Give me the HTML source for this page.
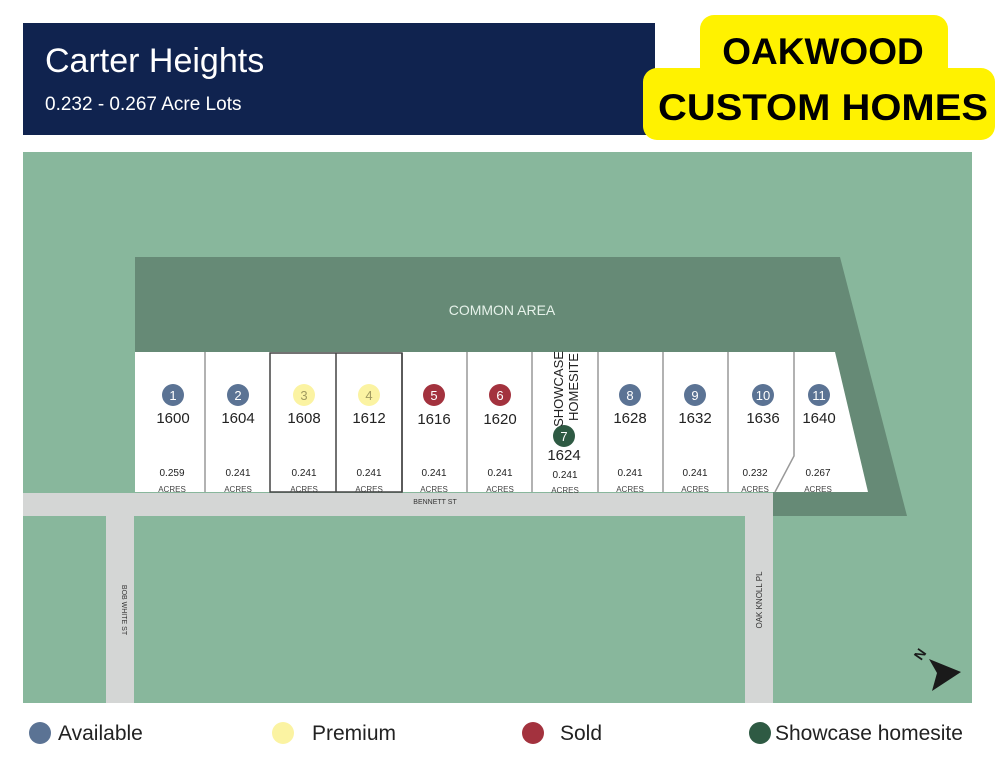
<!DOCTYPE html>
<html><head><meta charset="utf-8"><style>body{margin:0;background:#fff}svg{display:block}</style></head>
<body>
<svg width="995" height="768" viewBox="0 0 995 768" xmlns="http://www.w3.org/2000/svg" font-family="Liberation Sans, sans-serif">
<rect width="995" height="768" fill="#fff"/>
<!-- header -->
<rect x="23" y="23" width="632" height="112" fill="#10234f"/>
<text x="45" y="72" fill="#fff" font-size="34">Carter Heights</text>
<text x="45" y="110" fill="#fff" font-size="19">0.232 - 0.267 Acre Lots</text>
<rect x="700" y="15" width="248" height="70" rx="14" fill="#fff200"/>
<rect x="643" y="68" width="352" height="72" rx="14" fill="#fff200"/>
<text x="823" y="64" text-anchor="middle" font-size="37" font-weight="bold" fill="#000">OAKWOOD</text>
<text x="823" y="120" text-anchor="middle" font-size="37" font-weight="bold" fill="#000" textLength="330" lengthAdjust="spacingAndGlyphs">CUSTOM HOMES</text>
<!-- map -->
<rect x="23" y="152" width="949" height="551" fill="#88b79c"/>
<polygon points="135,257 840,257 907,516 773,516 773,492 135,492" fill="#668a76"/>
<text x="502" y="315" text-anchor="middle" fill="#e6f2ea" font-size="14">COMMON AREA</text>
<!-- lots -->
<polygon points="135,352 835,352 868,492 135,492" fill="#fff"/>
<g stroke="#999" stroke-width="1.5">
<line x1="205" y1="352" x2="205" y2="492"/><line x1="467" y1="352" x2="467" y2="492"/>
<line x1="532" y1="352" x2="532" y2="492"/><line x1="598" y1="352" x2="598" y2="492"/>
<line x1="663" y1="352" x2="663" y2="492"/><line x1="728" y1="352" x2="728" y2="492"/>
<polyline points="794,352 794,456 775,492" fill="none"/>
</g>
<rect x="270" y="353" width="132" height="139" fill="none" stroke="#444" stroke-width="1.5"/>
<line x1="336" y1="353" x2="336" y2="492" stroke="#444" stroke-width="1.5"/>
<line x1="402" y1="353" x2="402" y2="492" stroke="#444" stroke-width="1.5"/>
<!-- roads -->
<rect x="23" y="493" width="750" height="23" fill="#d4d6d5"/>
<rect x="106" y="516" width="28" height="187" fill="#d4d6d5"/>
<rect x="745" y="516" width="28" height="187" fill="#d4d6d5"/>
<text x="435" y="504" text-anchor="middle" font-size="7" fill="#333">BENNETT ST</text>
<text transform="translate(122,610) rotate(90)" text-anchor="middle" font-size="7" fill="#333">BOB WHITE ST</text>
<text transform="translate(762,600) rotate(-90)" text-anchor="middle" font-size="8" fill="#333">OAK KNOLL PL</text>
<!-- lot labels -->
<g font-size="15" text-anchor="middle" fill="#222">
<circle cx="173" cy="395" r="11" fill="#5b7394"/><text x="173" y="400" font-size="13" fill="#fff">1</text><text x="173" y="423">1600</text>
<circle cx="238" cy="395" r="11" fill="#5b7394"/><text x="238" y="400" font-size="13" fill="#fff">2</text><text x="238" y="423">1604</text>
<circle cx="304" cy="395" r="11" fill="#fbf3a2"/><text x="304" y="400" font-size="13" fill="#a09a60">3</text><text x="304" y="423">1608</text>
<circle cx="369" cy="395" r="11" fill="#fbf3a2"/><text x="369" y="400" font-size="13" fill="#a09a60">4</text><text x="369" y="423">1612</text>
<circle cx="434" cy="395" r="11" fill="#a3323e"/><text x="434" y="400" font-size="13" fill="#fff">5</text><text x="434" y="424">1616</text>
<circle cx="500" cy="395" r="11" fill="#a3323e"/><text x="500" y="400" font-size="13" fill="#fff">6</text><text x="500" y="424">1620</text>
<circle cx="564" cy="436" r="11" fill="#2e5a43"/><text x="564" y="441" font-size="13" fill="#fff">7</text><text x="564" y="460">1624</text>
<circle cx="630" cy="395" r="11" fill="#5b7394"/><text x="630" y="400" font-size="13" fill="#fff">8</text><text x="630" y="423">1628</text>
<circle cx="695" cy="395" r="11" fill="#5b7394"/><text x="695" y="400" font-size="13" fill="#fff">9</text><text x="695" y="423">1632</text>
<circle cx="763" cy="395" r="11" fill="#5b7394"/><text x="763" y="400" font-size="13" fill="#fff">10</text><text x="763" y="423">1636</text>
<circle cx="819" cy="395" r="11" fill="#5b7394"/><text x="819" y="400" font-size="13" fill="#fff">11</text><text x="819" y="423">1640</text>
<text transform="translate(563,389) rotate(-90)" font-size="13">SHOWCASE</text>
<text transform="translate(578,387) rotate(-90)" font-size="13">HOMESITE</text>
<g font-size="10">
<text x="172" y="476">0.259</text><text x="238" y="476">0.241</text><text x="304" y="476">0.241</text><text x="369" y="476">0.241</text><text x="434" y="476">0.241</text><text x="500" y="476">0.241</text><text x="565" y="478">0.241</text><text x="630" y="476">0.241</text><text x="695" y="476">0.241</text><text x="755" y="476">0.232</text><text x="818" y="476">0.267</text>
</g>
<g font-size="8" fill="#444">
<text x="172" y="492">ACRES</text><text x="238" y="492">ACRES</text><text x="304" y="492">ACRES</text><text x="369" y="492">ACRES</text><text x="434" y="492">ACRES</text><text x="500" y="492">ACRES</text><text x="565" y="493">ACRES</text><text x="630" y="492">ACRES</text><text x="695" y="492">ACRES</text><text x="755" y="492">ACRES</text><text x="818" y="492">ACRES</text>
</g>
</g>
<!-- compass -->
<polygon points="929,659 961,672 932,691 937,673" fill="#1a1a1a"/>
<text transform="translate(924,657) rotate(-55)" font-size="14" font-weight="bold" fill="#1a1a1a" text-anchor="middle">N</text>
<!-- legend -->
<g font-size="21" fill="#222">
<circle cx="40" cy="733" r="11" fill="#5b7394"/><text x="58" y="740">Available</text>
<circle cx="283" cy="733" r="11" fill="#fbf3a2"/><text x="312" y="740">Premium</text>
<circle cx="533" cy="733" r="11" fill="#a3323e"/><text x="560" y="740">Sold</text>
<circle cx="760" cy="733" r="11" fill="#2e5a43"/><text x="775" y="740">Showcase homesite</text>
</g>
</svg>
</body></html>
